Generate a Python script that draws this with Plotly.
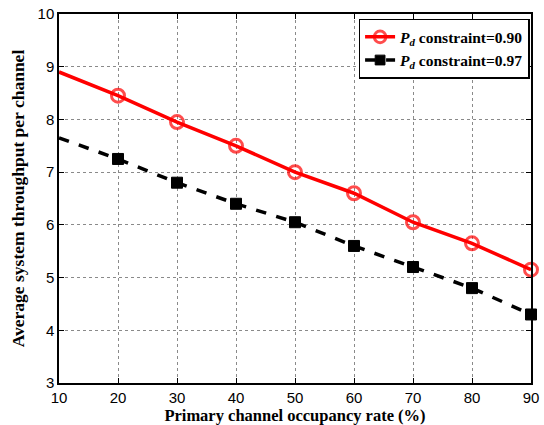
import plotly.graph_objects as go

occupancy = [10, 20, 30, 40, 50, 60, 70, 80, 90]
thr_090 = [8.9, 8.45, 7.95, 7.5, 7.0, 6.6, 6.05, 5.65, 5.15]
thr_097 = [7.65, 7.25, 6.8, 6.4, 6.05, 5.6, 5.2, 4.8, 4.3]
x_ticks = [10, 20, 30, 40, 50, 60, 70, 80, 90]
y_ticks = [3, 4, 5, 6, 7, 8, 9, 10]

fig = go.Figure()
fig.add_trace(go.Scatter(
    x=occupancy, y=thr_090, mode="lines+markers",
    name="<b><i>P</i><sub><i>d</i></sub> constraint=0.90</b>",
    line=dict(color="red", width=3.5),
    marker=dict(symbol="circle-open", size=[0] + [13] * 8, color="red", line=dict(width=3, color="red")),
    cliponaxis=False,
))
fig.add_trace(go.Scatter(
    x=occupancy, y=thr_097, mode="lines+markers",
    name="<b><i>P</i><sub><i>d</i></sub> constraint=0.97</b>",
    line=dict(color="#000000", width=3.5, dash="dash"),
    marker=dict(symbol="square", size=[0] + [11] * 8, color="#000000", opacity=1,
                line=dict(width=1, color="#000000")),
    cliponaxis=False,
))

axis_common = dict(
    showline=True, linecolor="black", linewidth=1.5, mirror="ticks",
    ticks="inside", ticklen=5, tickcolor="black",
    showgrid=True, gridcolor="#8a8a8a", griddash="dot", gridwidth=1,
    zeroline=False, ticklabeloverflow="allow",
    tickfont=dict(family="Liberation Sans, Arial", size=15, color="black"),
)
fig.update_xaxes(range=[10, 90], tickvals=x_ticks, **axis_common,
                 title=dict(text="<b>Primary channel occupancy rate (%)</b>",
                            font=dict(family="Liberation Serif, Times New Roman", size=16.5, color="black"),
                            standoff=0))
fig.update_yaxes(range=[3, 10], tickvals=y_ticks, **axis_common,
                 title=dict(text="<b>Average system throughput per channel</b>",
                            font=dict(family="Liberation Serif, Times New Roman", size=17.5, color="black"),
                            standoff=8))

fig.update_layout(
    width=544, height=425,
    margin=dict(l=59, r=5, t=8, b=42),
    paper_bgcolor="white", plot_bgcolor="white",
    showlegend=True,
    legend=dict(x=0.997, y=0.987, xanchor="right", yanchor="top",
                bgcolor="white", bordercolor="black", borderwidth=1.5,
                font=dict(family="Liberation Serif, Times New Roman", size=15.5, color="black"),
                tracegroupgap=0, itemwidth=30),
)
fig.write_html("out.html")
